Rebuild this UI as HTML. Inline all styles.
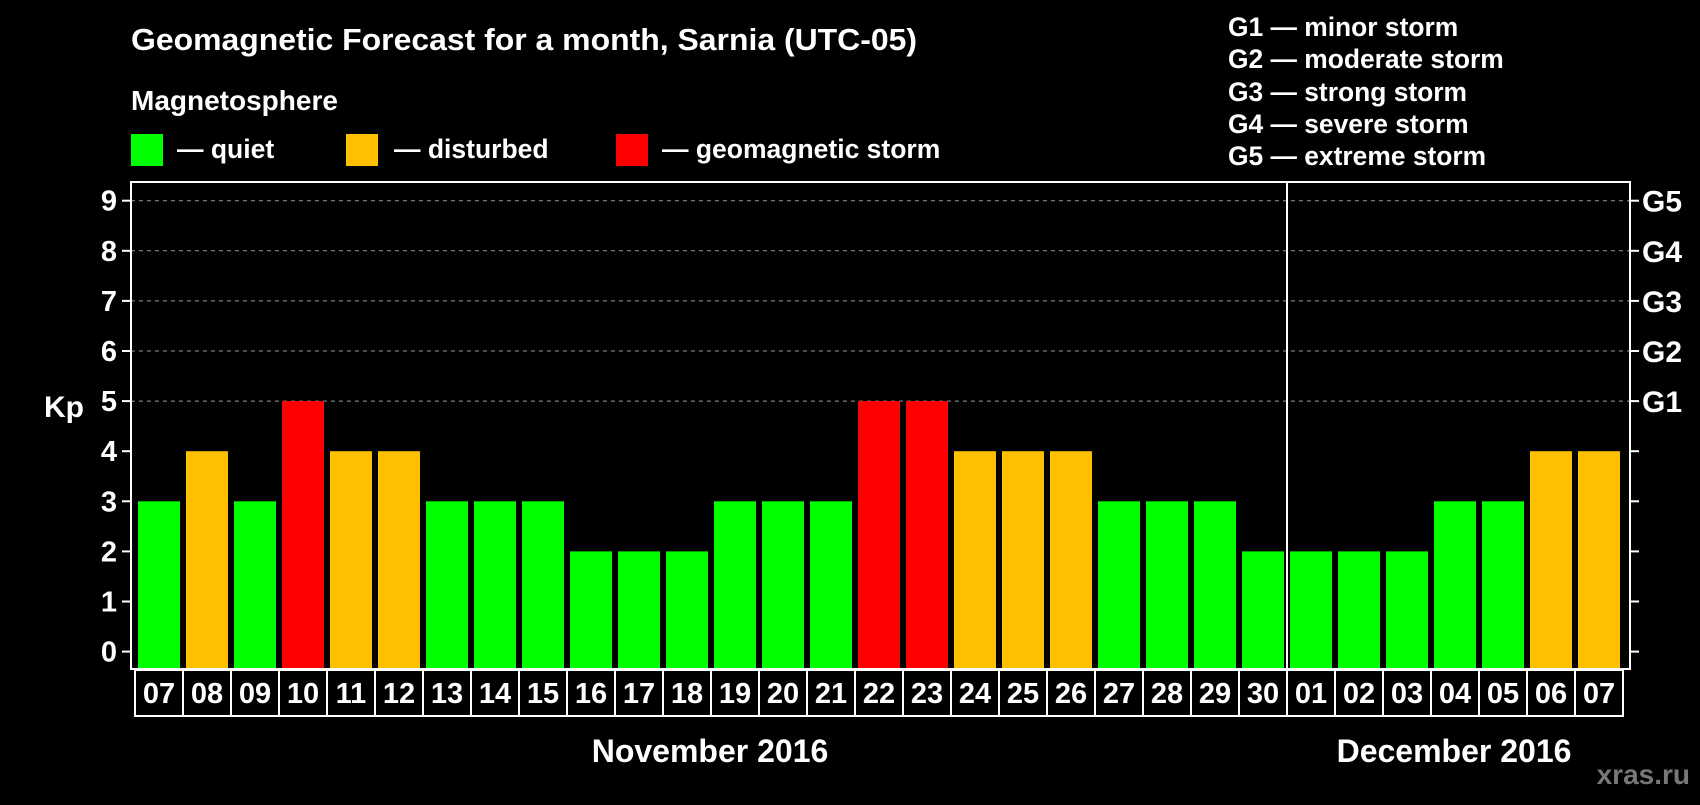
<!DOCTYPE html>
<html><head><meta charset="utf-8"><style>
body{margin:0;background:#000;width:1700px;height:800px;overflow:hidden;font-family:"Liberation Sans",sans-serif;}
</style></head><body>
<svg width="1700" height="800" xmlns="http://www.w3.org/2000/svg" font-family="Liberation Sans, sans-serif" font-weight="bold">
<rect width="1700" height="800" fill="#000"/>
<text x="131" y="50" fill="#fff" font-size="31" textLength="786" lengthAdjust="spacingAndGlyphs">Geomagnetic Forecast for a month, Sarnia (UTC-05)</text>
<text x="131" y="110" fill="#fff" font-size="28">Magnetosphere</text>
<g>
<rect x="131" y="134" width="32" height="32" fill="#00ff00"/>
<text x="177" y="158" fill="#fff" font-size="26.5">— quiet</text>
<rect x="346" y="134" width="32" height="32" fill="#ffc000"/>
<text x="394" y="158" fill="#fff" font-size="26.5">— disturbed</text>
<rect x="616" y="134" width="32" height="32" fill="#ff0000"/>
<text x="662" y="158" fill="#fff" font-size="26.5">— geomagnetic storm</text>
</g>
<g fill="#fff" font-size="26.4">
<text x="1228" y="36">G1 — minor storm</text>
<text x="1228" y="68">G2 — moderate storm</text>
<text x="1228" y="101">G3 — strong storm</text>
<text x="1228" y="133">G4 — severe storm</text>
<text x="1228" y="165">G5 — extreme storm</text>
</g>
<g id="plot"></g>
<text x="64" y="409" fill="#fff" font-size="30" text-anchor="middle" dominant-baseline="middle">Kp</text>
<text x="710" y="762" fill="#fff" font-size="32" text-anchor="middle">November 2016</text>
<text x="1454" y="762" fill="#fff" font-size="32" text-anchor="middle">December 2016</text>
<text x="1690" y="784" fill="#777" font-size="28" text-anchor="end">xras.ru</text>
</svg>
<script>
const days=["07","08","09","10","11","12","13","14","15","16","17","18","19","20","21","22","23","24","25","26","27","28","29","30","01","02","03","04","05","06","07"];
const kp=[3,4,3,5,4,4,3,3,3,2,2,2,3,3,3,5,5,4,4,4,3,3,3,2,2,2,2,3,3,4,4];
const yTicks=[0,1,2,3,4,5,6,7,8,9];
const gLabels=["G1","G2","G3","G4","G5"];
const gLevels=[5,6,7,8,9];
const NS="http://www.w3.org/2000/svg";
const g=document.getElementById('plot');
const L=131,R=1630,T=182,B=669,x0=135,slot=48;
const y=v=>651.6-v*50.1;
const x=i=>x0+i*slot;
function mk(tag,a){const e=document.createElementNS(NS,tag);for(const k in a)e.setAttribute(k,a[k]);g.appendChild(e);return e;}
const color=v=>v>=5?"#ff0000":v>=4?"#ffc000":"#00ff00";
yTicks.forEach(v=>{
 if(v>=5){const l=mk('line',{x1:L,x2:R,y1:y(v),y2:y(v),stroke:'#999','stroke-width':1,'stroke-dasharray':'4,4'});
 
 }
 const t=mk('line',{x1:122,x2:L,y1:y(v),y2:y(v),stroke:'#fff','stroke-width':2});
 
 
 const t2=mk('line',{x1:R,x2:R+9,y1:y(v),y2:y(v),stroke:'#fff','stroke-width':2});
 
 
 const tx=mk('text',{x:117,y:y(v)+10,fill:'#fff','font-size':29,'text-anchor':'end'});
 tx.textContent=v;
 
 
});
gLabels.forEach((s,i)=>{
 const tx=mk('text',{x:1642,y:y(gLevels[i])+11,fill:'#fff','font-size':30});
 tx.textContent=s;
 
 
});
kp.forEach((v,i)=>{
 const r=mk('rect',{x:x(i)+3,y:y(v),width:42,height:B-y(v),fill:color(v)});
 
 
 const c=mk('rect',{x:x(i),y:670,width:slot,height:46,fill:'none',stroke:'#fff','stroke-width':2});
 
 
 const t=mk('text',{x:x(i)+slot/2,y:703,fill:'#fff','font-size':29,'text-anchor':'middle'});
 t.textContent=days[i];
 
 
});
const f=mk('rect',{x:L,y:T,width:R-L,height:B-T,fill:'none',stroke:'#fff','stroke-width':2});


const di=days.indexOf("01");
const d=mk('line',{x1:x(di),x2:x(di),y1:T,y2:716,stroke:'#fff','stroke-width':2});


</script>
</body></html>
